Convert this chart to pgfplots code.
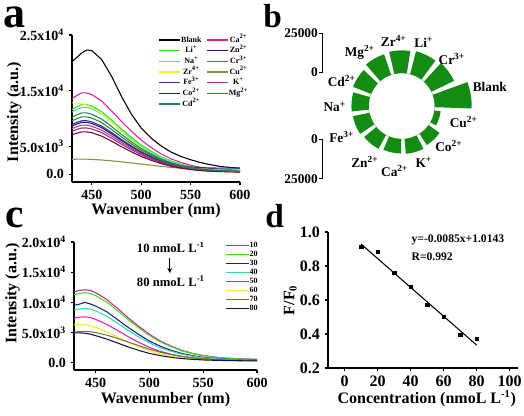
\documentclass[border=0pt]{standalone}
\usepackage{fontspec}
\setmainfont{Liberation Serif}
\usepackage{pgfplots}
\pgfplotsset{compat=1.18}
\usepackage{pgfplotstable}

\definecolor{cLi}{RGB}{51,221,51}
\definecolor{cNa}{RGB}{64,230,160}
\definecolor{cZr}{RGB}{240,240,40}
\definecolor{cFe}{RGB}{50,50,150}
\definecolor{cCo}{RGB}{120,0,60}
\definecolor{cCd}{RGB}{30,130,90}
\definecolor{cCa}{RGB}{220,30,170}
\definecolor{cZn}{RGB}{25,25,120}
\definecolor{cCr}{RGB}{200,50,150}
\definecolor{cCu}{RGB}{140,140,60}
\definecolor{cK}{RGB}{150,50,120}
\definecolor{cMg}{RGB}{40,140,40}
\definecolor{k10}{RGB}{204,34,153}
\definecolor{k20}{RGB}{68,221,34}
\definecolor{k30}{RGB}{30,30,140}
\definecolor{k40}{RGB}{51,221,170}
\definecolor{k50}{RGB}{221,34,187}
\definecolor{k60}{RGB}{238,238,51}
\definecolor{k70}{RGB}{119,119,51}
\definecolor{k80}{RGB}{17,17,85}
\definecolor{rose}{RGB}{20,140,20}

\pgfplotstableread{
wl Blank Li Na Zr Fe Co Cd Ca Zn Cr Cu K Mg
430 20200 11630 11160 12800 8930 7070 10230 13580 8650 8180 2650 7720 9580
435 21000 12130 11640 12800 9310 7370 10670 14160 9020 8540 2700 8050 9990
440 21800 12500 12000 12670 9600 7600 11000 14600 9300 8800 2720 8300 10300
445 22300 12500 12000 12420 9600 7600 11000 14600 9300 8800 2700 8300 10300
450 22200 12250 11760 12030 9410 7450 10780 14310 9110 8620 2660 8130 10090
460 20600 11250 10800 10880 8640 6840 9900 13140 8370 7920 2550 7470 9270
470 17600 9750 9360 9340 7490 5930 8580 11390 7250 6860 2400 6470 8030
480 14000 8130 7800 7680 6240 4940 7150 9490 6050 5720 2220 5400 6700
490 10800 6630 6360 6140 5090 4030 5830 7740 4930 4660 2020 4400 5460
500 8300 5250 5040 4860 4030 3190 4620 6130 3910 3700 1820 3490 4330
510 6500 4130 3960 3710 3170 2510 3630 4820 3070 2900 1620 2740 3400
520 5100 3130 3000 2820 2400 1900 2750 3650 2330 2200 1420 2080 2580
530 4000 2380 2280 2110 1820 1440 2090 2770 1770 1670 1230 1580 1960
540 3200 1810 1740 1600 1500 1100 1600 2120 1350 1280 1060 1200 1490
550 2600 1380 1320 1220 1300 840 1210 1610 1020 970 910 910 1130
560 2100 1060 1020 960 1180 650 940 1240 790 750 780 710 880
570 1700 880 840 790 1120 530 770 1020 650 620 680 580 720
580 1400 780 740 700 1100 470 680 910 580 550 600 510 640
590 1200 690 660 640 1100 420 610 800 510 480 540 460 570
600 1100 630 600 590 1100 380 550 730 470 440 500 420 520
}\ions

\pgfplotstableread{
wl c10 c20 c30 c40 c50 c60 c70 c80
430 11740 11250 9500 8750 7400 6300 5100 4950
435 11980 11480 9700 8900 7550 6350 5150 4950
440 12100 11600 10000 9000 7600 6300 5200 4900
445 11980 11480 9750 8900 7500 6150 5150 4750
450 11620 11140 9400 8600 7200 5850 5000 4500
460 10530 10090 8500 7750 6400 5150 4600 3950
470 9080 8700 7200 6600 5400 4300 4050 3300
480 7500 7190 5900 5400 4350 3420 3450 2650
490 6050 5800 4700 4300 3400 2630 2850 2050
500 4720 4520 3600 3300 2550 1950 2250 1550
510 3630 3480 2750 2500 1900 1450 1750 1180
520 2780 2670 2080 1900 1420 1080 1350 900
530 2060 1970 1550 1420 1060 820 1050 700
540 1570 1510 1180 1080 810 640 820 560
550 1210 1160 900 840 640 520 660 470
560 970 930 720 680 530 440 550 410
570 790 750 600 570 460 390 480 370
580 700 670 530 500 420 360 430 340
590 630 600 480 460 390 340 400 320
600 580 560 450 430 370 320 380 300
}\conc

\pgfplotsset{
  base/.style={
    scale only axis, anchor=south west,
    axis x line=bottom, axis y line=left,
    axis line style={-, line width=0.9pt},
    xtick pos=bottom, ytick pos=left,
    tick align=outside, major tick length=2.5pt,
    every tick/.style={black, line width=0.9pt},
    scaled ticks=false,
    /pgf/number format/assume math mode=true,
    tick label style={font=\fontsize{10.5}{12}\selectfont\bfseries},
    label style={font=\fontsize{12}{14}\selectfont\bfseries, inner sep=0pt},
    xlabel style={anchor=north},
    ylabel style={anchor=south},
  },
  spec/.style={line width=0.8pt},
}

\begin{document}
\bfseries
\begin{tikzpicture}
\path[use as bounding box] (0,0) rectangle (393pt,311.25pt);

% ---------- panel a ----------
\begin{axis}[base, at={(54pt,174.75pt)}, width=126pt, height=110.25pt,
  xmin=430, xmax=600, ymin=-1400, ymax=25000,
  xtick={450,500,550,600},
  ytick={0,5000,15000,25000},
  yticklabels={0.0,5.0x10\textsuperscript{3},1.5x10\textsuperscript{4},2.5x10\textsuperscript{4}},
  xlabel={Wavenumber (nm)}, ylabel={Intensity (a.u.)},
  xlabel style={at={(axis description cs:0.5,-0.143)}},
  ylabel style={at={(axis description cs:-0.298,0.476)}},
  legend columns=2,
  legend style={at={(axis description cs:0.49,1.02)}, anchor=north west, draw=none, fill=none,
    font=\fontsize{6}{7}\selectfont\bfseries, row sep=0.5pt,
    nodes={inner sep=0.5pt, text height=5pt, text depth=1.5pt},
    /tikz/every even column/.append style={column sep=3pt}},
  legend image code/.code={\draw[#1] (0cm,0cm) -- (0.55cm,0cm);},
]
\addplot[spec, black] table[x=wl, y=Blank] {\ions}; \addlegendentry{Blank}
\addplot[spec, cCa] table[x=wl, y=Ca] {\ions}; \addlegendentry{Ca\textsuperscript{2+}}
\addplot[spec, cLi] table[x=wl, y=Li] {\ions}; \addlegendentry{Li\textsuperscript{+}}
\addplot[spec, cZn] table[x=wl, y=Zn] {\ions}; \addlegendentry{Zn\textsuperscript{2+}}
\addplot[spec, cNa] table[x=wl, y=Na] {\ions}; \addlegendentry{Na\textsuperscript{+}}
\addplot[spec, cCr] table[x=wl, y=Cr] {\ions}; \addlegendentry{Cr\textsuperscript{3+}}
\addplot[spec, cZr] table[x=wl, y=Zr] {\ions}; \addlegendentry{Zr\textsuperscript{4+}}
\addplot[spec, cCu] table[x=wl, y=Cu] {\ions}; \addlegendentry{Cu\textsuperscript{2+}}
\addplot[spec, cFe] table[x=wl, y=Fe] {\ions}; \addlegendentry{Fe\textsuperscript{3+}}
\addplot[spec, cK] table[x=wl, y=K] {\ions}; \addlegendentry{K\textsuperscript{+}}
\addplot[spec, cCo] table[x=wl, y=Co] {\ions}; \addlegendentry{Co\textsuperscript{2+}}
\addplot[spec, cMg] table[x=wl, y=Mg] {\ions}; \addlegendentry{Mg\textsuperscript{2+}}
\addplot[spec, cCd] table[x=wl, y=Cd] {\ions}; \addlegendentry{Cd\textsuperscript{2+}}
\end{axis}

% ---------- panel b ----------
\begin{axis}[at={(225pt,165pt)}, anchor=south west, scale only axis,
  width=165pt, height=138.75pt,
  xmin=-64700, xmax=75200, ymin=-56600, ymax=61100,
  hide axis, clip=false]
\draw[gray!45, line width=0.6pt] (axis cs:0,0) circle[radius=21000];
\addplot[fill=rose, draw=none, data cs=polar] coordinates {(-2,44500) (3.5,44500) (9,44500) (14.5,44500) (20,44500) (20,21000) (9,21000) (-2,21000)};
\addplot[fill=rose, draw=none, data cs=polar] coordinates {(-29.7,25000) (-24.2,25000) (-18.7,25000) (-13.2,25000) (-7.7,25000) (-7.7,21000) (-18.7,21000) (-29.7,21000)};
\addplot[fill=rose, draw=none, data cs=polar] coordinates {(-57.4,29500) (-51.9,29500) (-46.4,29500) (-40.9,29500) (-35.4,29500) (-35.4,21000) (-46.4,21000) (-57.4,21000)};
\addplot[fill=rose, draw=none, data cs=polar] coordinates {(-85.1,30500) (-79.6,30500) (-74.1,30500) (-68.6,30500) (-63.1,30500) (-63.1,21000) (-74.1,21000) (-85.1,21000)};
\addplot[fill=rose, draw=none, data cs=polar] coordinates {(-112.8,30200) (-107.3,30200) (-101.8,30200) (-96.3,30200) (-90.8,30200) (-90.8,21000) (-101.8,21000) (-112.8,21000)};
\addplot[fill=rose, draw=none, data cs=polar] coordinates {(-140.5,31000) (-135,31000) (-129.5,31000) (-124,31000) (-118.5,31000) (-118.5,21000) (-129.5,21000) (-140.5,21000)};
\addplot[fill=rose, draw=none, data cs=polar] coordinates {(-168.2,31800) (-162.7,31800) (-157.2,31800) (-151.7,31800) (-146.2,31800) (-146.2,21000) (-157.2,21000) (-168.2,21000)};
\addplot[fill=rose, draw=none, data cs=polar] coordinates {(-195.8,32000) (-190.3,32000) (-184.8,32000) (-179.3,32000) (-173.8,32000) (-173.8,21000) (-184.8,21000) (-195.8,21000)};
\addplot[fill=rose, draw=none, data cs=polar] coordinates {(-223.5,33300) (-218,33300) (-212.5,33300) (-207,33300) (-201.5,33300) (-201.5,21000) (-212.5,21000) (-223.5,21000)};
\addplot[fill=rose, draw=none, data cs=polar] coordinates {(-251.2,34800) (-245.7,34800) (-240.2,34800) (-234.7,34800) (-229.2,34800) (-229.2,21000) (-240.2,21000) (-251.2,21000)};
\addplot[fill=rose, draw=none, data cs=polar] coordinates {(-278.9,35400) (-273.4,35400) (-267.9,35400) (-262.4,35400) (-256.9,35400) (-256.9,21000) (-267.9,21000) (-278.9,21000)};
\addplot[fill=rose, draw=none, data cs=polar] coordinates {(-306.6,36000) (-301.1,36000) (-295.6,36000) (-290.1,36000) (-284.6,36000) (-284.6,21000) (-295.6,21000) (-306.6,21000)};
\addplot[fill=rose, draw=none, data cs=polar] coordinates {(-334.3,37000) (-328.8,37000) (-323.3,37000) (-317.8,37000) (-312.3,37000) (-312.3,21000) (-323.3,21000) (-334.3,21000)};
% radial scale bars
\addplot[black, line width=0.9pt] coordinates {(-52400,46300) (-50500,46300) (-50500,21300) (-52400,21300)};
\addplot[black, line width=0.9pt] coordinates {(-52400,-21300) (-50500,-21300) (-50500,-46300) (-52400,-46300)};
\begin{scope}[every node/.style={font=\fontsize{10}{12}\selectfont\bfseries, inner sep=0pt}]
\node[anchor=east] at (axis cs:-53200,46300) {25000};
\node[anchor=east] at (axis cs:-53200,21300) {0};
\node[anchor=east] at (axis cs:-53200,-21300) {0};
\node[anchor=east] at (axis cs:-53200,-46300) {25000};
\node at (axis cs:-5100,41300) {Zr\textsuperscript{4+}};
\node at (axis cs:14000,40700) {Li\textsuperscript{+}};
\node at (axis cs:31800,29900) {Cr\textsuperscript{3+}};
\node at (axis cs:56000,12000) {Blank};
\node at (axis cs:39400,-10200) {Cu\textsuperscript{2+}};
\node at (axis cs:29900,-25400) {Co\textsuperscript{2+}};
\node at (axis cs:14000,-35600) {K\textsuperscript{+}};
\node at (axis cs:-4500,-41300) {Ca\textsuperscript{2+}};
\node at (axis cs:-23500,-35600) {Zn\textsuperscript{2+}};
\node at (axis cs:-38200,-19700) {Fe\textsuperscript{3+}};
\node at (axis cs:-42600,-600) {Na\textsuperscript{+}};
\node at (axis cs:-38200,15900) {Cd\textsuperscript{2+}};
\node at (axis cs:-26700,34300) {Mg\textsuperscript{2+}};
\end{scope}
\end{axis}

% ---------- panel c ----------
\begin{axis}[base, at={(55.5pt,33.75pt)}, width=137.25pt, height=96pt,
  xmin=430, xmax=600, ymin=-1200, ymax=20000,
  xtick={450,500,550,600},
  ytick={0,5000,10000,15000,20000},
  yticklabels={0.0,5.0x10\textsuperscript{3},1.0x10\textsuperscript{4},1.5x10\textsuperscript{4},2.0x10\textsuperscript{4}},
  xlabel={Wavenumber (nm)}, ylabel={Intensity (a.u.)},
  xlabel style={at={(axis description cs:0.5,-0.172)}},
  ylabel style={at={(axis description cs:-0.295,0.598)}},
  legend style={at={(axis description cs:0.803,1.03)}, anchor=north west, draw=none, fill=none,
    font=\fontsize{6}{7}\selectfont\bfseries, row sep=0pt,
    nodes={inner sep=0.5pt, text height=4.5pt, text depth=1.25pt}},
  legend image code/.code={\draw[#1] (0cm,0cm) -- (0.6cm,0cm);},
]
\addplot[spec, k10] table[x=wl, y=c10] {\conc}; \addlegendentry{10}
\addplot[spec, k20] table[x=wl, y=c20] {\conc}; \addlegendentry{20}
\addplot[spec, k30] table[x=wl, y=c30] {\conc}; \addlegendentry{30}
\addplot[spec, k40] table[x=wl, y=c40] {\conc}; \addlegendentry{40}
\addplot[spec, k50] table[x=wl, y=c50] {\conc}; \addlegendentry{50}
\addplot[spec, k60] table[x=wl, y=c60] {\conc}; \addlegendentry{60}
\addplot[spec, k70] table[x=wl, y=c70] {\conc}; \addlegendentry{70}
\addplot[spec, k80] table[x=wl, y=c80] {\conc}; \addlegendentry{80}
\node[font=\fontsize{9.5}{11}\selectfont\bfseries] at (axis cs:520,19170) {10 nmoL L\textsuperscript{-1}};
\node[font=\fontsize{9.5}{11}\selectfont\bfseries] at (axis cs:520,13540) {80 nmoL L\textsuperscript{-1}};
\draw[-stealth, line width=0.7pt] (axis cs:519,17350) -- (axis cs:519,14870);
\end{axis}

% ---------- panel d ----------
\begin{axis}[base, at={(246pt,35.25pt)}, width=142.5pt, height=102pt,
  xmin=-10, xmax=105, ymin=0.2, ymax=1.0,
  xtick={0,20,40,60,80,100},
  ytick={0.2,0.4,0.6,0.8,1.0},
  yticklabel style={/pgf/number format/.cd, fixed, fixed zerofill, precision=1},
  tick label style={font=\fontsize{12}{14}\selectfont\bfseries},
  xlabel={Concentration (nmoL L\textsuperscript{-1})}, ylabel={F/F\textsubscript{0}},
  xlabel style={at={(axis description cs:0.52,-0.162)}},
  ylabel style={at={(axis description cs:-0.163,0.5)}},
]
\addplot[only marks, mark=square*, mark size=1.3pt, black] coordinates {
(10,0.914) (20,0.884) (30,0.761) (40,0.678) (50,0.571) (60,0.502) (70,0.394) (80,0.371)};
\addplot[black, line width=0.8pt] coordinates {(10,0.9293) (80,0.3343)};
\node[anchor=west, font=\fontsize{8.7}{10}\selectfont\bfseries] at (axis cs:37.8,0.953) {y=-0.0085x+1.0143};
\node[anchor=west, font=\fontsize{8.7}{10}\selectfont\bfseries] at (axis cs:37.8,0.853) {R=0.992};
\end{axis}

% ---------- panel letters ----------
\node[anchor=base west, inner sep=0pt, font=\fontsize{33}{33}\selectfont\bfseries] at (2.25pt,290.25pt) {a};
\node[anchor=base west, inner sep=0pt, font=\fontsize{25}{25}\selectfont\bfseries] at (197.25pt,290.25pt) {b};
\node[anchor=base west, inner sep=0pt, font=\fontsize{31}{31}\selectfont\bfseries] at (3.75pt,141pt) {c};
\node[anchor=base west, inner sep=0pt, font=\fontsize{25}{25}\selectfont\bfseries] at (198.75pt,141pt) {d};
\end{tikzpicture}
\end{document}
